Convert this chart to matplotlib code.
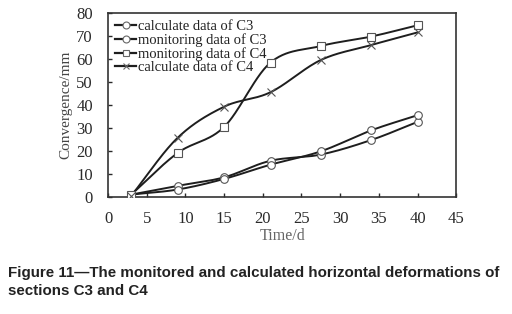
import numpy as np
import matplotlib
matplotlib.use("Agg")
import matplotlib.pyplot as plt

days = [3, 9, 15, 21, 27.5, 34, 40]
calc_c3 = [1, 4.8, 8.5, 15.7, 18.4, 24.7, 32.6]
mon_c3 = [1, 3.2, 7.8, 14.0, 19.8, 28.9, 35.5]
mon_c4 = [1, 19.1, 30.4, 58.4, 65.6, 69.7, 74.6]
calc_c4 = [0.5, 25.7, 39.2, 45.5, 59.5, 66.0, 71.5]

labels = ["calculate data of C3", "monitoring data of C3",
          "monitoring data of C4", "calculate data of C4"]
markers = ["o", "o", "s", "x"]
series = [calc_c3, mon_c3, mon_c4, calc_c4]


def smooth(x, y, n=30):
    x = np.asarray(x, float)
    y = np.asarray(y, float)
    px = np.concatenate([[2 * x[0] - x[1]], x, [2 * x[-1] - x[-2]]])
    py = np.concatenate([[2 * y[0] - y[1]], y, [2 * y[-1] - y[-2]]])
    xs, ys = [], []
    for i in range(1, len(px) - 2):
        t = np.linspace(0, 1, n)
        for arr, out in ((px, xs), (py, ys)):
            p0, p1, p2, p3 = arr[i - 1], arr[i], arr[i + 1], arr[i + 2]
            out.extend(0.5 * ((2 * p1) + (-p0 + p2) * t
                              + (2 * p0 - 5 * p1 + 4 * p2 - p3) * t ** 2
                              + (-p0 + 3 * p1 - 3 * p2 + p3) * t ** 3))
    return np.array(xs), np.array(ys)


fig = plt.figure(figsize=(5.12, 3.14), dpi=100)
ax = fig.add_axes([0.211, 0.373, 0.68, 0.586])

serif = "Liberation Serif"
for y, lab, m in zip(series, labels, markers):
    sx, sy = smooth(days, y)
    ax.plot(sx, sy, color="#1e1e1e", lw=1.4, zorder=2)
    ax.plot(days, y, linestyle="none", marker=m, markersize=5.5,
            markerfacecolor="white", markeredgecolor="#555555",
            markeredgewidth=0.8, zorder=3)
    ax.plot([], [], color="#1e1e1e", lw=1.6, marker=m, markersize=5,
            markerfacecolor="white", markeredgecolor="#666666",
            markeredgewidth=0.8, label=lab)

ax.set_xlim(0, 45)
ax.set_ylim(0, 80)
ax.set_xticks(range(0, 46, 5))
ax.set_yticks(range(0, 81, 10))
ax.tick_params(direction="in", length=3, width=1, labelsize=12,
               colors="#2a2a2a")
ax.tick_params(axis="y", pad=11)
ax.tick_params(axis="x", pad=10)
for lab in ax.get_xticklabels() + ax.get_yticklabels():
    lab.set_fontfamily(serif)
for s in ax.spines.values():
    s.set_color("#333333")
    s.set_linewidth(1.2)

ax.set_xlabel("Time/d", fontfamily=serif, fontsize=11.5, color="#666666",
              labelpad=1)
ax.set_ylabel("Convergence/mm", fontfamily=serif, fontsize=11,
              color="#444444", labelpad=3)

leg = ax.legend(loc="upper left", frameon=False, prop={"family": serif, "size": 10.5},
                handlelength=1.4, handletextpad=0.15, labelspacing=0.0,
                borderaxespad=0.0, borderpad=0.5)
for t in leg.get_texts():
    t.set_color("#222222")

fig.text(0.016, 0.118, "Figure 11\u2014The monitored and calculated horizontal deformations of",
         fontfamily="Liberation Sans", fontweight="bold", fontsize=10.9,
         color="#222222")
fig.text(0.016, 0.060, "sections C3 and C4",
         fontfamily="Liberation Sans", fontweight="bold", fontsize=10.9,
         color="#222222")

fig.savefig("out.png", dpi=100, facecolor="white")
